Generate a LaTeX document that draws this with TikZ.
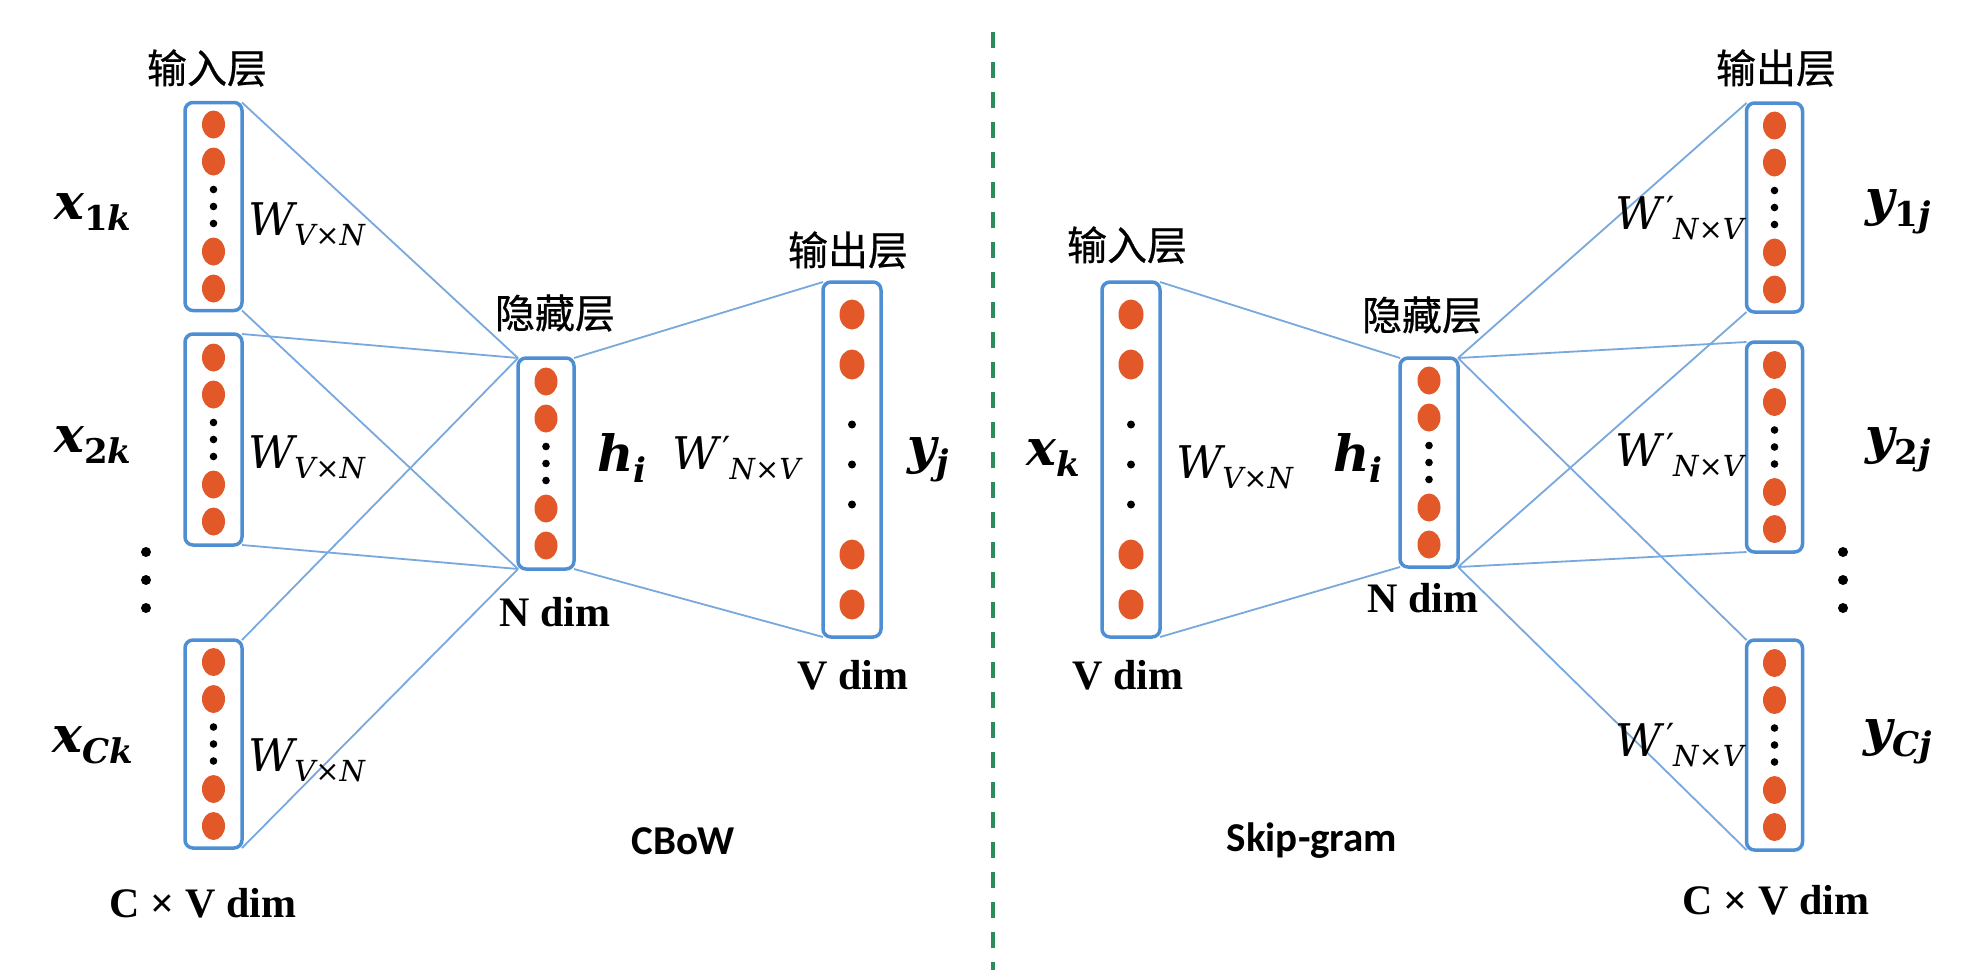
\documentclass[tikz,border=0pt]{standalone}
\usepackage{fontspec}
\setmainfont{Liberation Serif}
\newfontfamily\cjk[FakeBold=0.6]{Noto Sans CJK SC}
\newfontfamily\carlito{Carlito}
\newfontfamily\mvar{DejaVu Serif}
\usetikzlibrary{backgrounds}
\definecolor{boxblue}{RGB}{78,143,212}
\definecolor{lineblue}{RGB}{120,168,220}
\definecolor{dotorange}{RGB}{226,88,40}
\definecolor{divgreen}{RGB}{44,140,92}
\tikzset{
  box/.style={draw=boxblue, line width=3.5pt, rounded corners=8pt, minimum width=57pt, inner sep=0pt, outer sep=0pt},
  conn/.style={draw=lineblue, line width=1.8pt},
  cjkl/.style={font=\cjk\fontsize{40}{48}\selectfont, inner sep=0pt},
  dimlbl/.style={font=\bfseries\fontsize{42}{50}\selectfont, inner sep=0pt},
  varlbl/.style={inner sep=0pt},
  titlelbl/.style={font=\carlito\bfseries\fontsize{41}{50}\selectfont, inner sep=0pt},
}
% bold italic variable with subscript
\newcommand\bvar[2]{{\mvar\bfseries\itshape\fontsize{50}{58}\selectfont #1}\raisebox{-11pt}{\mvar\bfseries\fontsize{34}{40}\selectfont #2}}
% W with subscript
\newcommand\wsub[1]{\raisebox{-10pt}{\mvar\fontsize{29}{34}\selectfont #1}}
\newcommand\wvar{{\mvar\itshape\fontsize{45}{50}\selectfont W}\wsub{\itshape V\upshape×\itshape N}}
\newcommand\wpvar{{\mvar\itshape\fontsize{45}{50}\selectfont W}\kern4pt\raisebox{7pt}{\mvar\fontsize{36}{40}\selectfont ′}\kern-1pt\wsub{\itshape N\upshape×\itshape V}}
\newcommand\fivecol[1]{%
  \begin{scope}[shift={(#1.center)}]
    \foreach \dy in {-82,-45,45,82} \fill[dotorange] (0,\dy) ellipse (11.5 and 14);
    \foreach \dy in {-17,0,17} \fill[black] (0,\dy) circle (3.8);
  \end{scope}}
\newcommand\sevencol[1]{%
  \begin{scope}[shift={(#1.center)}]
    \foreach \dy in {-145,-95,95,145} \fill[dotorange] (0,\dy) ellipse (12.5 and 15);
    \foreach \dy in {-35,5,45} \fill[black] (0,\dy) circle (4);
  \end{scope}}
\begin{document}
\begin{tikzpicture}[x=1pt,y=-1pt]
\useasboundingbox (0,0) rectangle (1988,970);
\begin{scope}[on background layer]
\fill[white] (0,0) rectangle (1988,970);
\end{scope}

% divider
\draw[divgreen, line width=4pt, dash pattern=on 16pt off 14pt] (993,32) -- (993,970);

% ---------- CBoW ----------
\node[box, minimum height=208pt] (in1) at (213.5,206.5) {};
\node[box, minimum height=211pt] (in2) at (213.5,439.5) {};
\node[box, minimum height=208pt] (in3) at (213.5,744) {};
\node[box, minimum width=56pt, minimum height=211pt] (hidL) at (546,463.5) {};
\node[box, minimum width=58pt, minimum height=355pt] (outL) at (852,459.5) {};
\fivecol{in1}\fivecol{in2}\fivecol{in3}\fivecol{hidL}\sevencol{outL}

\begin{scope}[on background layer]
\foreach \b in {in1,in2,in3}{
  \draw[conn] (\b.north east) -- (hidL.north west);
  \draw[conn] (\b.south east) -- (hidL.south west);
}
\draw[conn] (hidL.north east) -- (outL.north west);
\draw[conn] (hidL.south east) -- (outL.south west);
\end{scope}

\node[cjkl] (lin) at (207,68) {输入层};
\node[cjkl] (lhid) at (555,313) {隐藏层};
\node[cjkl] (lout) at (848,250) {输出层};
\node[varlbl] (x1) at (93,212) {\bvar{x}{1\itshape k}};
\node[varlbl] (x2) at (93,445) {\bvar{x}{2\itshape k}};
\node[varlbl] (xC) at (93,745) {\bvar{x}{\itshape Ck}};
\node[varlbl, anchor=west] (w1) at (248,224) {\wvar};
\node[varlbl, anchor=west] (w2) at (248,457) {\wvar};
\node[varlbl, anchor=west] (w3) at (248,760) {\wvar};
\node[varlbl] (hL) at (622,458) {\bvar{h}{\itshape i}};
\node[varlbl, anchor=west] (wpL) at (672,458) {\wpvar};
\node[varlbl] (yL) at (928,460) {\bvar{y}{\itshape j}};
\node[dimlbl] (ndL) at (555,612) {N dim};
\node[dimlbl] (vdL) at (853,675) {V dim};
\node[dimlbl] (cvL) at (203,903) {C × V dim};
\node[titlelbl] (cbow) at (683,841) {CBoW};
\foreach \yy [count=\i] in {552,580,608} \fill[black] (146,\yy) circle (5) coordinate (ldot\i);

% ---------- Skip-gram ----------
\node[box, minimum width=58pt, minimum height=355pt] (inR) at (1131,459.5) {};
\node[box, minimum width=58pt, minimum height=209pt] (hidR) at (1429,462.5) {};
\node[box, minimum width=56pt, minimum height=209pt] (o1) at (1774.5,207.5) {};
\node[box, minimum width=56pt, minimum height=210pt] (o2) at (1774.5,447) {};
\node[box, minimum width=56pt, minimum height=210pt] (o3) at (1774.5,745) {};
\sevencol{inR}\fivecol{hidR}\fivecol{o1}\fivecol{o2}\fivecol{o3}

\begin{scope}[on background layer]
\draw[conn] (inR.north east) -- (hidR.north west);
\draw[conn] (inR.south east) -- (hidR.south west);
\foreach \b in {o1,o2,o3}{
  \draw[conn] (hidR.north east) -- (\b.north west);
  \draw[conn] (hidR.south east) -- (\b.south west);
}
\end{scope}

\node[cjkl] (rin) at (1127,245) {输入层};
\node[cjkl] (rhid) at (1422,315) {隐藏层};
\node[cjkl] (rout) at (1776,68) {输出层};
\node[varlbl] (xk) at (1053,458) {\bvar{x}{\itshape k}};
\node[varlbl, anchor=west] (wR) at (1176,467) {\wvar};
\node[varlbl] (hR) at (1358,458) {\bvar{h}{\itshape i}};
\node[varlbl, anchor=east] (wp1) at (1744,218) {\wpvar};
\node[varlbl, anchor=east] (wp2) at (1744,455) {\wpvar};
\node[varlbl, anchor=east] (wp3) at (1744,745) {\wpvar};
\node[varlbl] (y1) at (1898,212) {\bvar{y}{1\itshape j}};
\node[varlbl] (y2) at (1898,450) {\bvar{y}{2\itshape j}};
\node[varlbl] (yC) at (1898,742) {\bvar{y}{\itshape Cj}};
\node[dimlbl] (ndR) at (1423,598) {N dim};
\node[dimlbl] (vdR) at (1128,675) {V dim};
\node[dimlbl] (cvR) at (1776,900) {C × V dim};
\node[titlelbl] (skip) at (1312,841) {Skip-gram};
\foreach \yy [count=\i] in {552,580,608} \fill[black] (1843,\yy) circle (5) coordinate (rdot\i);
\end{tikzpicture}
\end{document}
